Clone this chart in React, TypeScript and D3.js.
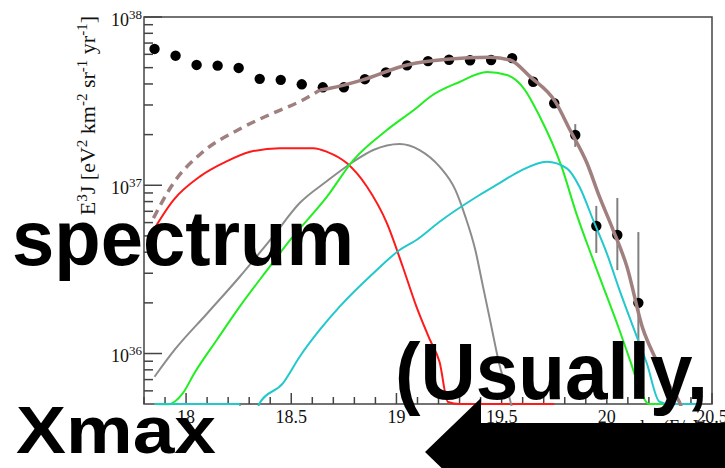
import React from "react";
import * as d3 from "d3";

const W = 725;
const H = 468;

// ---- measured spectrum points (log10 E, E^3 J) ----
const DATA_LOGE = [17.85, 17.95, 18.05, 18.15, 18.25, 18.35, 18.45, 18.55, 18.65, 18.75, 18.85, 18.95,
  19.05, 19.15, 19.25, 19.35, 19.45, 19.55, 19.65, 19.75, 19.85, 19.95, 20.05, 20.15];
const DATA_FLUX = [6.46e37, 5.89e37, 5.19e37, 5.14e37, 4.98e37, 4.29e37, 4.23e37, 3.98e37, 3.82e37, 3.82e37,
  4.27e37, 4.69e37, 5.16e37, 5.47e37, 5.57e37, 5.53e37, 5.55e37, 5.70e37, 4.12e37, 3.07e37, 1.99e37,
  5.73e36, 5.06e36, 2.0e36];
const ERR_LOGE = [19.85, 19.95, 20.05, 20.15];
const ERR_LOW = [1.69e37, 3.96e36, 3.13e36, 1.0e36];
const ERR_HIGH = [2.31e37, 7.54e36, 8.4e36, 5.27e36];

// ---- model components ----
const RED_LOGE = [17.845, 17.94, 18.065, 18.19, 18.305, 18.445, 18.605, 18.67, 18.765, 18.86, 18.955, 19.03,
  19.095, 19.16, 19.205, 19.245, 19.3, 19.75];
const RED_FLUX = [5.42e36, 8.17e36, 1.125e37, 1.38e37, 1.58e37, 1.66e37, 1.66e37, 1.58e37, 1.35e37, 9.8e36,
  5.94e36, 3.28e36, 1.9e36, 1.2e36, 8.9e35, 5.15e35, 0, 0];

const GRAY_LOGE = [17.85, 17.945, 18.1, 18.255, 18.415, 18.54, 18.67, 18.795, 18.89, 19.015, 19.11, 19.205,
  19.28, 19.325, 19.375, 19.41, 19.445, 19.49, 19.54, 19.6];
const GRAY_FLUX = [7.28e35, 1.05e36, 1.73e36, 2.86e36, 5.0e36, 7.84e36, 1.06e37, 1.38e37, 1.62e37, 1.76e37,
  1.62e37, 1.29e37, 9.38e36, 6.65e36, 4.12e36, 2.55e36, 1.58e36, 8.55e35, 5.3e35, 2.5e35];

const GREEN_LOGE = [17.85, 17.915, 17.985, 18.04, 18.145, 18.255, 18.385, 18.495, 18.67, 18.795, 18.955, 19.095,
  19.16, 19.3, 19.43, 19.525, 19.605, 19.68, 19.785, 19.855, 19.935, 20.06, 20.11, 20.175, 20.2, 20.45];
const GREEN_FLUX = [0, 5.0e35, 5.82e35, 7.66e35, 1.2e36, 1.9e36, 3.13e36, 4.73e36, 8.55e36, 1.41e37, 2.13e37,
  2.88e37, 3.36e37, 4.11e37, 4.71e37, 4.52e37, 3.77e37, 2.58e37, 1.29e37, 6.81e36, 3.6e36, 1.38e36,
  9.14e35, 5.45e35, 0, 0];

const TEAL_LOGE = [17.85, 18.25, 18.3, 18.35, 18.46, 18.54, 18.635, 18.73, 18.89, 19.015, 19.095, 19.205, 19.395,
  19.49, 19.585, 19.715, 19.81, 19.87, 19.935, 20.0, 20.06, 20.125, 20.19, 20.25, 20.3, 20.45];
const TEAL_FLUX = [0, 0, 3e35, 5.08e35, 6.65e35, 9.57e35, 1.38e36, 1.9e36, 3.0e36, 4.12e36, 4.73e36, 6.07e36,
  8.75e36, 1.03e37, 1.21e37, 1.38e37, 1.26e37, 9.8e36, 6.22e36, 3.94e36, 2.39e36, 1.44e36, 8.75e35, 5.18e35, 0, 0];

const TOTAL_LOGE = [17.845, 17.94, 18.075, 18.255, 18.415, 18.555, 18.637, 18.685, 18.84, 19.05, 19.24, 19.445,
  19.54, 19.635, 19.755, 19.825, 19.905, 19.965, 20.03, 20.095, 20.17, 20.235, 20.3, 20.345, 20.4];
const TOTAL_FLUX = [6.38e36, 1.03e37, 1.56e37, 2.16e37, 2.69e37, 3.21e37, 3.68e37, 3.77e37, 4.23e37, 5.19e37,
  5.61e37, 5.76e37, 5.55e37, 4.42e37, 3.14e37, 2.13e37, 1.36e37, 8.55e36, 5.42e36, 3.3e36, 1.42e36, 9.14e35,
  6.35e35, 5.15e35, 3.0e35];
const TOTAL_DASHED_BELOW = 18.637;

const X_TICK_LABELS = ["18", "18.5", "19", "19.5", "20", "20.5"];
const Y_DECADES = [36, 37, 38];

const X_DOMAIN = [17.8, 20.5];
const Y_DOMAIN = [Math.pow(10, 35.7), 1e38];

const L = 144, R = 712, T = 17, B = 404;

export default function App() {
  const x = d3.scaleLinear().domain(X_DOMAIN).range([L, R]);
  const y = d3.scaleLog().domain(Y_DOMAIN).range([B, T]);
  const yv = (v: number) => (v <= 0 ? B : y(v));

  const mk = (xs: number[], vs: number[]) =>
    d3.line<number>().x((i) => x(xs[i])).y((i) => yv(vs[i])).curve(d3.curveMonotoneX)(xs.map((_, i) => i)) || "";

  const dashIdx = TOTAL_LOGE.map((_, i) => i).filter((i) => TOTAL_LOGE[i] <= TOTAL_DASHED_BELOW);
  const solidIdx = TOTAL_LOGE.map((_, i) => i).filter((i) => TOTAL_LOGE[i] >= TOTAL_DASHED_BELOW);
  const totalDashed = mk(dashIdx.map((i) => TOTAL_LOGE[i]), dashIdx.map((i) => TOTAL_FLUX[i]));
  const totalSolid = mk(solidIdx.map((i) => TOTAL_LOGE[i]), solidIdx.map((i) => TOTAL_FLUX[i]));

  const xMinor = d3.range(178, 206).map((k) => k / 10).filter((v) => v >= 17.8 && v <= 20.5);
  const yMinor: number[] = [];
  for (let d = 35; d <= 37; d++) for (let m = 2; m <= 9; m++) {
    const v = m * Math.pow(10, d);
    if (v >= Y_DOMAIN[0] && v <= Y_DOMAIN[1]) yMinor.push(v);
  }

  const serif = "'Liberation Serif', 'Times New Roman', serif";
  const sans = "'Liberation Sans', Arial, sans-serif";
  const axisColor = "#444";

  return (
    <svg width={W} height={H} style={{ position: "absolute", left: 0, top: 0, background: "#fff" }}>
      <defs>
        <clipPath id="plot">
          <rect x={L} y={T} width={R - L} height={B - T + 2} />
        </clipPath>
      </defs>
      <rect x={0} y={0} width={W} height={H} fill="#fff" />

      <rect x={L} y={T} width={R - L} height={B - T} fill="none" stroke={axisColor} strokeWidth={1.5} />
      {Y_DECADES.map((d) => (
        <line key={"ym" + d} x1={L} x2={L + 18} y1={y(Math.pow(10, d))} y2={y(Math.pow(10, d))} stroke={axisColor} strokeWidth={1.5} />
      ))}
      {yMinor.map((v, i) => (
        <line key={"yn" + i} x1={L} x2={L + 9} y1={y(v)} y2={y(v)} stroke={axisColor} strokeWidth={1.5} />
      ))}
      {xMinor.map((v, i) => {
        const major = Math.abs(v * 2 - Math.round(v * 2)) < 1e-6;
        return <line key={"xt" + i} x1={x(v)} x2={x(v)} y1={B} y2={B - (major ? 11 : 7)} stroke={axisColor} strokeWidth={1.5} />;
      })}
      {X_TICK_LABELS.map((t) => (
        <text key={"xl" + t} x={x(+t)} y={423} textAnchor="middle" fontFamily={serif} fontSize={18} fill="#111">{t}</text>
      ))}
      {Y_DECADES.map((d) => (
        <text key={"yl" + d} x={142} y={y(Math.pow(10, d)) + 8.5} textAnchor="end" fontFamily={serif} fontSize={18} fill="#111">
          10<tspan dy={-7} fontSize={13}>{d}</tspan>
        </text>
      ))}
      <text transform="translate(95,16) rotate(-90)" textAnchor="end" fontFamily={serif} fontSize={22} fill="#111">
        E<tspan dy={-8} fontSize={15}>3</tspan><tspan dy={8}>J [eV</tspan><tspan dy={-8} fontSize={15}>2</tspan>
        <tspan dy={8}> km</tspan><tspan dy={-8} fontSize={15}>-2</tspan><tspan dy={8}> sr</tspan>
        <tspan dy={-8} fontSize={15}>-1</tspan><tspan dy={8}> yr</tspan><tspan dy={-8} fontSize={15}>-1</tspan>
        <tspan dy={8}>]</tspan>
      </text>
      <text x={712} y={433} textAnchor="end" fontFamily={serif} fontSize={18} fill="#111">log(E/eV)</text>

      {ERR_LOGE.map((e, i) => (
        <line key={"eb" + i} x1={x(e)} x2={x(e)} y1={Math.min(B, y(ERR_LOW[i]))} y2={y(ERR_HIGH[i])} stroke="#808080" strokeWidth={2} />
      ))}
      {DATA_LOGE.map((e, i) => (
        <circle key={"pt" + i} cx={x(e)} cy={y(DATA_FLUX[i])} r={5.2} fill="#000" />
      ))}

      <g clipPath="url(#plot)" fill="none" strokeLinejoin="round">
        <path d={mk(RED_LOGE, RED_FLUX)} stroke="#ff1a1a" strokeWidth={2} />
        <path d={mk(GRAY_LOGE, GRAY_FLUX)} stroke="#8c8c8c" strokeWidth={2} />
        <path d={mk(GREEN_LOGE, GREEN_FLUX)} stroke="#22ee22" strokeWidth={2} />
        <path d={mk(TEAL_LOGE, TEAL_FLUX)} stroke="#22c8cc" strokeWidth={2} />
        <path d={totalDashed} stroke="#a07f7f" strokeWidth={3.5} strokeDasharray="9,6" />
        <path d={totalSolid} stroke="#a07f7f" strokeWidth={3.5} />
      </g>

      <text x={12} y={265} fontFamily={sans} fontWeight={700} fontSize={77} fill="#000" textLength={342} lengthAdjust="spacingAndGlyphs">spectrum</text>
      <text x={395} y={399} fontFamily={sans} fontWeight={700} fontSize={79} fill="#000" textLength={313} lengthAdjust="spacingAndGlyphs">(Usually,</text>
      <text x={16} y={453} fontFamily={sans} fontWeight={700} fontSize={66} fill="#000" textLength={200} lengthAdjust="spacingAndGlyphs">Xmax</text>
      <polygon points="425,452 481,398 481,423 740,423 740,481 481,481 481,506" fill="#000" />
    </svg>
  );
}
